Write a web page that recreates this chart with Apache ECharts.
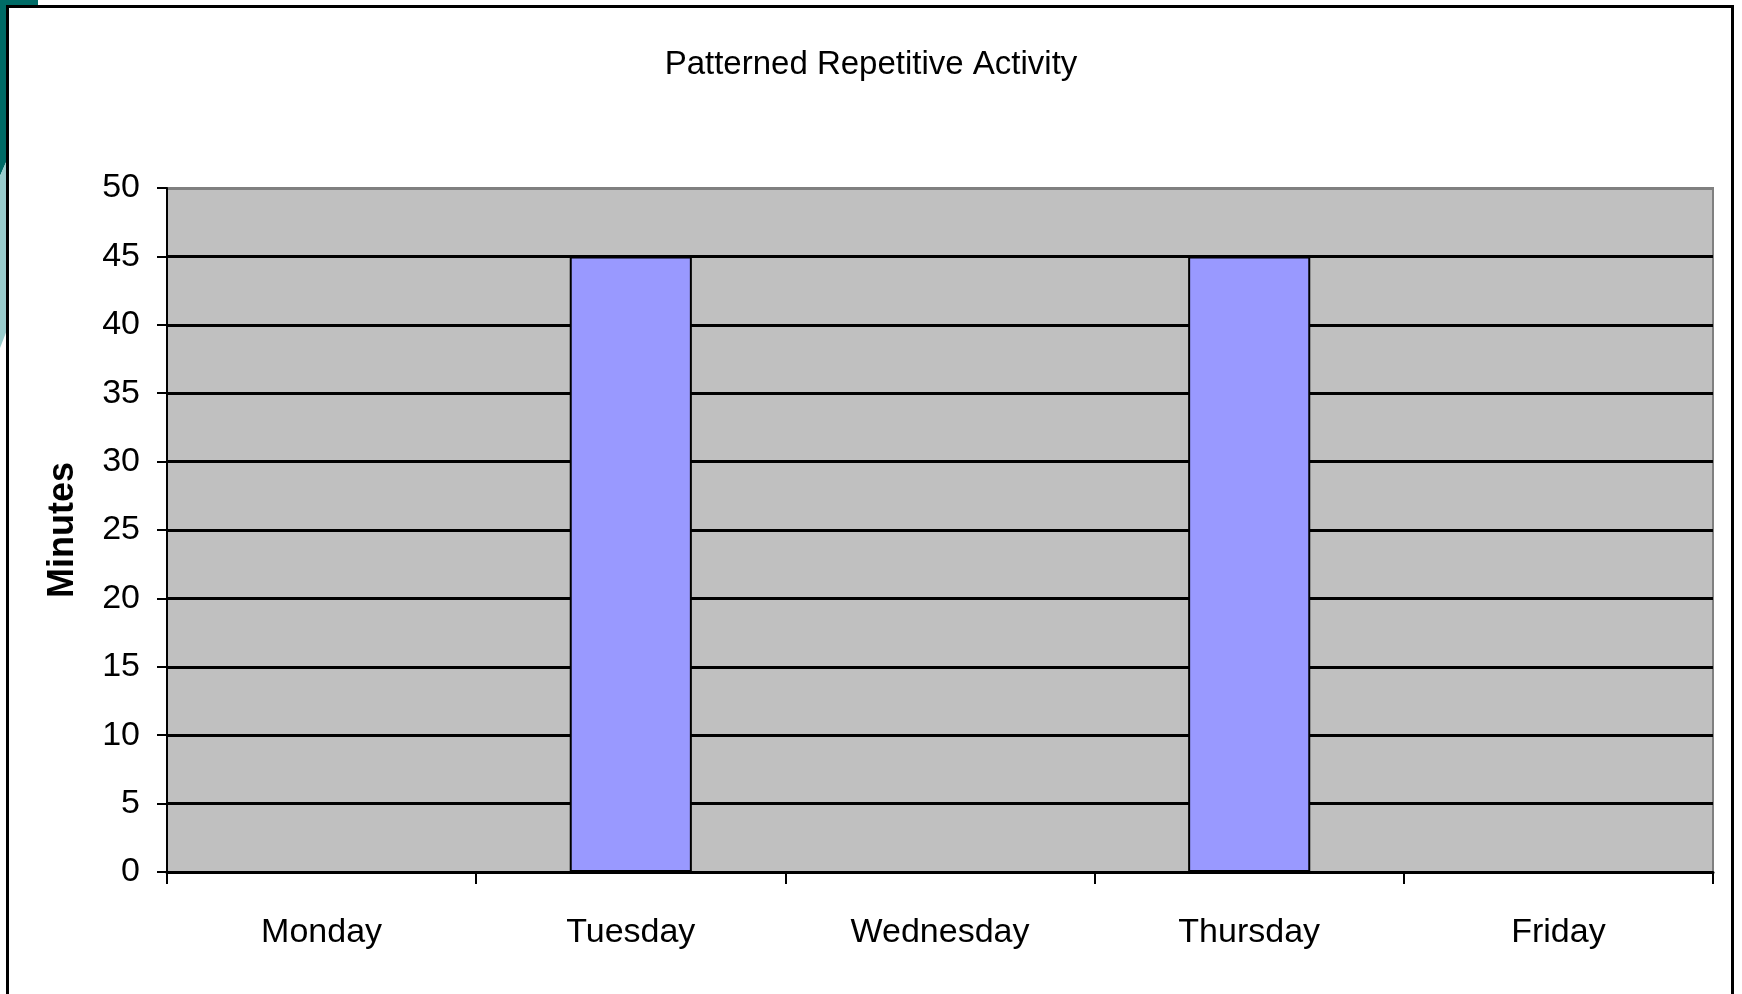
<!DOCTYPE html>
<html>
<head>
<meta charset="utf-8">
<script src="https://cdn.jsdelivr.net/npm/echarts@6/dist/echarts.min.js"></script>
<style>
    html, body { margin: 0; padding: 0; background: #fff; }
    #chart { width: 1742px; height: 994px; }
</style>
</head>
<body>
<div id="chart"></div>
<script>
    // days on the x axis
    var days = ['Monday', 'Tuesday', 'Wednesday', 'Thursday', 'Friday'];
    // minutes per day
    var minutes = [0, 45, 0, 45, 0];
    // y axis ticks
    var yTicks = [0, 5, 10, 15, 20, 25, 30, 35, 40, 45, 50];

    var sans = "'Liberation Sans', Arial, sans-serif";

    // gridlines are black, the top one (50) is grey like the plot border
    var gridColors = yTicks.map(function (v, i) {
        return i === yTicks.length - 1 ? '#808080' : '#000';
    });

    var chart = echarts.init(document.getElementById('chart'));
    chart.setOption({
        animation: false,
        backgroundColor: '#fff',
        title: {
            text: 'Patterned Repetitive Activity',
            left: 'center',
            top: 43,
            textStyle: { fontFamily: sans, fontSize: 33, fontWeight: 'normal', color: '#000' }
        },
        grid: {
            left: 167,
            top: 188,
            right: 29,
            bottom: 122,
            show: true,
            backgroundColor: '#c0c0c0',
            borderColor: '#808080',
            borderWidth: 2
        },
        xAxis: {
            type: 'category',
            data: days,
            axisLine: { lineStyle: { color: '#000', width: 3 } },
            axisTick: { show: true, length: 12, lineStyle: { color: '#000', width: 2 } },
            axisLabel: { margin: 44, fontFamily: sans, fontSize: 34, color: '#000' }
        },
        yAxis: {
            type: 'value',
            min: 0,
            max: 50,
            interval: 5,
            name: 'Minutes',
            nameLocation: 'middle',
            nameGap: 86,
            nameTextStyle: { fontFamily: sans, fontSize: 36, fontWeight: 'bold', color: '#000' },
            axisLine: { show: true, lineStyle: { color: '#000', width: 2 } },
            axisTick: { show: true, length: 10, lineStyle: { color: '#000', width: 2 } },
            axisLabel: { margin: 27, fontFamily: sans, fontSize: 34, color: '#000' },
            splitLine: { show: true, lineStyle: { color: gridColors, width: 3 } }
        },
        series: [{
            type: 'bar',
            data: minutes,
            barWidth: '39.5%',
            itemStyle: { color: '#9999ff', borderColor: '#000', borderWidth: 2 }
        }],
        graphic: [
            // slide decoration at the top left
            { type: 'polygon', shape: { points: [[0, 0], [38, 0], [38, 6], [7, 6], [7, 160], [0, 176]] }, style: { fill: '#006b66' } },
            { type: 'polygon', shape: { points: [[0, 176], [7, 160], [7, 330], [0, 348]] }, style: { fill: '#99cccc' } },
            // frame round the chart
            { type: 'rect', shape: { x: 7.5, y: 6.5, width: 1725, height: 1000 }, style: { fill: 'none', stroke: '#000', lineWidth: 3 } }
        ]
    });
</script>
</body>
</html>
